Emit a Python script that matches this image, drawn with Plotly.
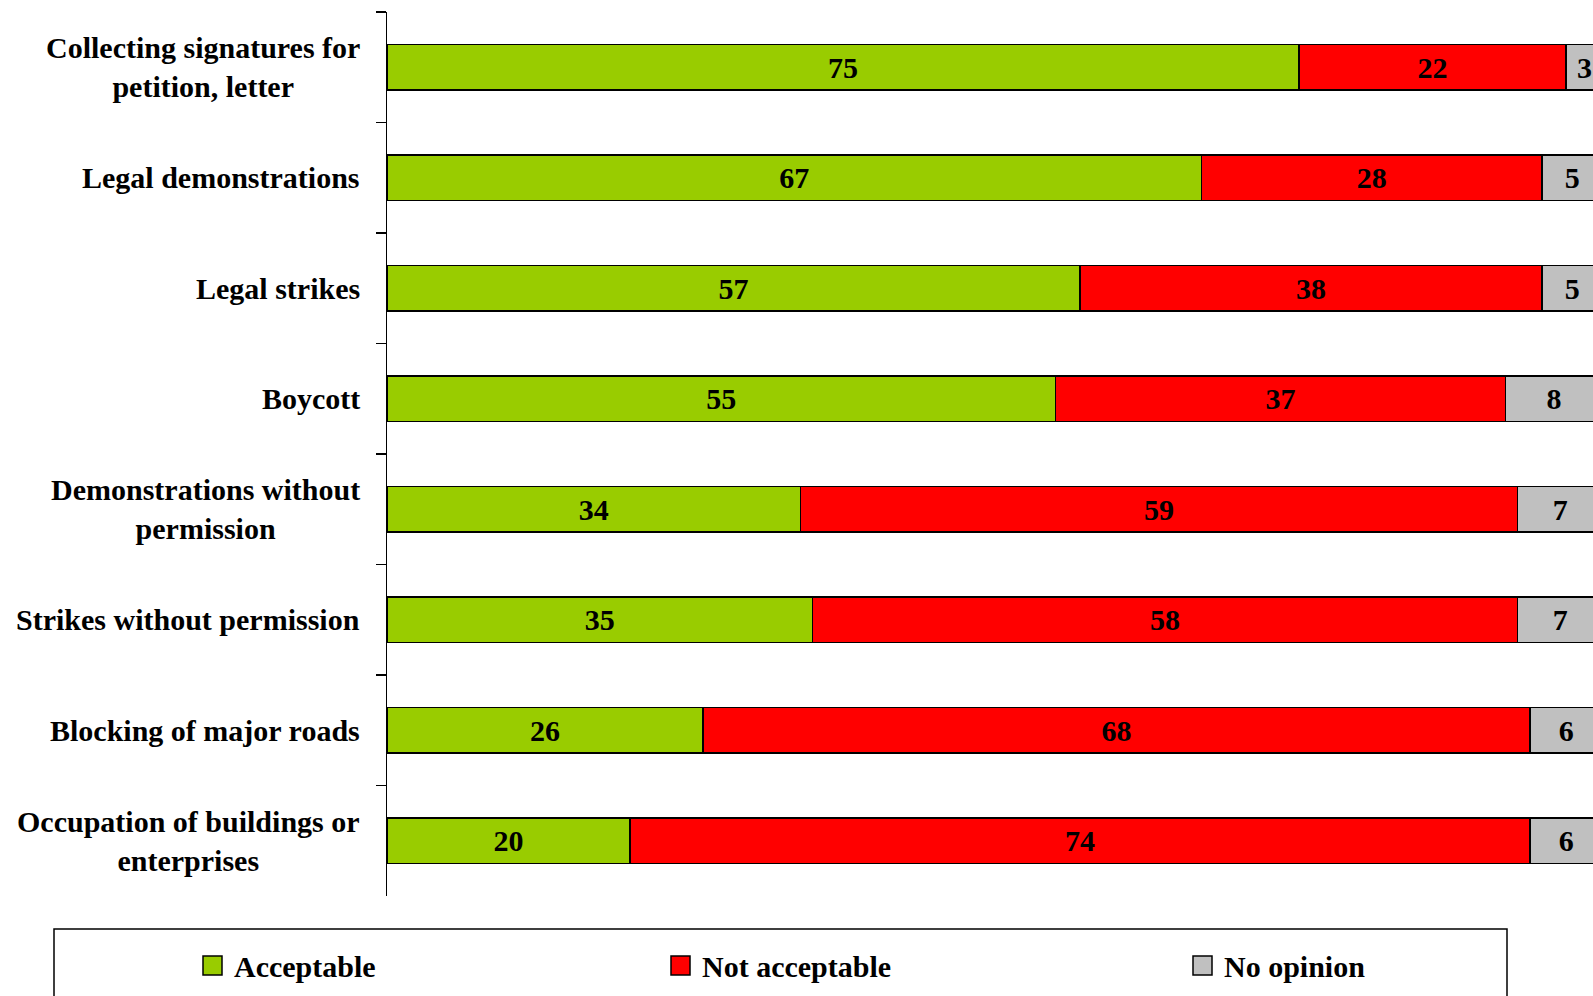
import plotly.graph_objects as go

categories = [
    "Collecting signatures for<br>petition, letter",
    "Legal demonstrations",
    "Legal strikes",
    "Boycott",
    "Demonstrations without<br>permission",
    "Strikes without permission",
    "Blocking of major roads",
    "Occupation of buildings or<br>enterprises",
]
acceptable = [75, 67, 57, 55, 34, 35, 26, 20]
not_acceptable = [22, 28, 38, 37, 59, 58, 68, 74]
no_opinion = [3, 5, 5, 8, 7, 7, 6, 6]

series_names = ["Acceptable", "Not acceptable", "No opinion"]
series_values = [acceptable, not_acceptable, no_opinion]
series_colors = ["#99CC00", "#FF0000", "#C0C0C0"]

FONT = "Liberation Serif, Times New Roman, serif"
W, H = 1593, 996
ML, MR, MT, MB = 387, 0, 12, 996 - 896
PW, PH = W - ML - MR, H - MT - MB

fig = go.Figure()
for name, vals, col in zip(series_names, series_values, series_colors):
    fig.add_trace(go.Bar(
        y=categories, x=vals, name=name, orientation="h",
        marker=dict(color=col, line=dict(color="black", width=1.5)),
        text=vals, texttemplate="%{x}", textposition="inside",
        insidetextanchor="middle", textangle=0, constraintext="none",
        textfont=dict(family=FONT, size=30, color="black", weight="bold"),
        showlegend=False, hoverinfo="skip",
    ))

# category labels (centered multi-line)
for c in categories:
    fig.add_annotation(
        x=-25 / PW, xref="paper", y=c, yref="y", text=c, showarrow=False,
        xanchor="right", yanchor="middle", align="center",
        font=dict(family=FONT, size=30, color="black", weight="bold"),
    )

def px2x(px):
    return (px - ML) / PW

def py2y(py):
    return (MT + PH - py) / PH

# legend box
fig.add_shape(type="rect", xref="paper", yref="paper",
              x0=px2x(54), x1=px2x(1507), y0=py2y(1010), y1=py2y(929),
              line=dict(color="black", width=1.5), fillcolor="white")
legend_sq = [203, 671, 1193]
for name, col, sx in zip(series_names, series_colors, legend_sq):
    fig.add_shape(type="rect", xref="paper", yref="paper",
                  x0=px2x(sx), x1=px2x(sx + 19), y0=py2y(975), y1=py2y(956),
                  line=dict(color="black", width=1.5), fillcolor=col)
    fig.add_annotation(x=px2x(sx + 29), xref="paper", y=py2y(966), yref="paper",
                       text=name, showarrow=False, xanchor="left", yanchor="middle",
                       font=dict(family=FONT, size=30, color="black", weight="bold"))

fig.update_layout(
    barmode="stack", bargap=0.59,
    width=W, height=H,
    margin=dict(l=ML, r=MR, t=MT, b=MB, pad=0),
    paper_bgcolor="white", plot_bgcolor="white",
    font=dict(family=FONT, color="black"),
    xaxis=dict(range=[0, PW / 12.157], showgrid=False, zeroline=False,
               showticklabels=False, showline=False, fixedrange=True),
    yaxis=dict(autorange="reversed", showgrid=False, zeroline=False,
               showticklabels=False, showline=True, linecolor="black", linewidth=1.5,
               ticks="outside", ticklen=10, tickwidth=1.5, tickcolor="black",
               tickson="boundaries"),
)

page_css = ("document.body.style.margin='0';"
            "document.body.style.overflow='hidden';"
            "document.documentElement.style.overflow='hidden';")
fig.write_html("out.html", post_script=page_css,
               config={"displayModeBar": False, "staticPlot": True})
